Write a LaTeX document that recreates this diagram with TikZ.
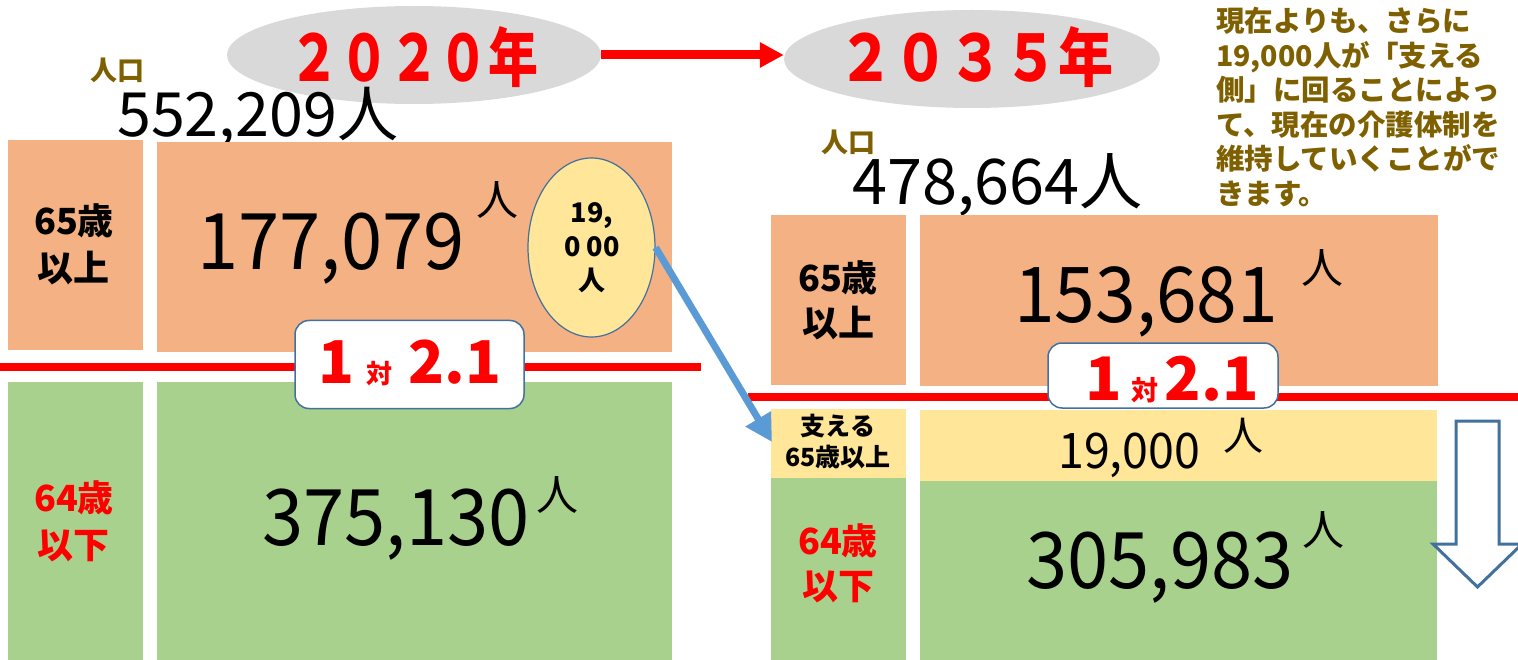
\documentclass[tikz,border=0pt]{standalone}
\usepackage{fontspec}
\setmainfont{Noto Sans CJK JP}
\usetikzlibrary{arrows.meta,shapes.geometric}
\definecolor{orng}{HTML}{F4B183}
\definecolor{grn}{HTML}{A9D18E}
\definecolor{ylw}{HTML}{FFE699}
\definecolor{gry}{HTML}{D9D9D9}
\definecolor{brn}{HTML}{7F6000}
\definecolor{arrblue}{HTML}{5B9BD5}
\definecolor{bordc}{HTML}{41719C}
\definecolor{rd}{HTML}{FF0000}
\newcommand{\myfs}[2]{\fontsize{#1}{#2}\selectfont}
\newcommand{\narrow}[1]{\scalebox{0.95}[1]{#1}}
\begin{document}
\begin{tikzpicture}[x=1pt,y=-1pt,
  rect/.style={inner sep=0pt, outer sep=0pt, draw=none},
  lbl/.style={inner sep=0pt, align=center},
  num/.style={inner sep=0pt, anchor=base west},
  sup/.style={inner sep=0pt},
  ratiobox/.style={draw=bordc, line width=1.5pt, fill=white, rounded corners=14pt, inner sep=0pt},
  title/.style={inner sep=0pt, anchor=base, text=rd, font=\bfseries\myfs{64}{64}},
  para/.style={inner sep=0pt, anchor=base west, text=brn, font=\bfseries\myfs{28.5}{34}},
  redline/.style={draw=rd, line width=8pt},
]
\useasboundingbox (0,0) rectangle (1518,660);

% ---------- titles ----------
\node[ellipse, fill=gry, minimum width=374, minimum height=98, inner sep=0pt] (e20) at (414,55) {};
\node[ellipse, fill=gry, minimum width=376, minimum height=98, inner sep=0pt] (e35) at (972,59) {};
\node[title] (t20) at (414,82) {\scalebox{0.78}[1]{２０２０年}};
\node[title] (t35) at (976,82) {\scalebox{0.86}[1]{２０３５年}};
\draw[draw=rd, line width=9pt, -{Triangle[length=24pt,width=24pt]}] (e20.east) -- (e20.east -| e35.west);

% ---------- left (2020) ----------
\node[lbl, text=brn, font=\bfseries\myfs{27}{27}] (pop20l) at (117,70.5) {人口};
\node[num, font=\myfs{61}{61}] (pop20) at (117,137) {552,209人};

\node[rect, fill=orng, minimum width=135, minimum height=210] (L65) at (75.5,245) {};
\node[rect, fill=orng, minimum width=515, minimum height=210] (L65b) at (414.5,247) {};
\node[rect, fill=grn, minimum width=135, minimum height=278] (L64) at (75.5,521) {};
\node[rect, fill=grn, minimum width=515, minimum height=278] (L64b) at (414.5,521) {};

\node[lbl, font=\bfseries\myfs{36}{47}] (L65t) at (74,244) {65歳\\以上};
\node[lbl, text=rd, font=\bfseries\myfs{36}{47}] (L64t) at (74,521) {64歳\\以下};

\node[num, font=\myfs{78}{78}] (L65n) at (197,270) {\narrow{177,079}};
\node[sup, font=\myfs{42}{42}] (L65p) at (497,200) {人};
\node[num, font=\myfs{78}{78}] (L64n) at (262,545) {\narrow{375,130}};
\node[sup, font=\myfs{42}{42}] (L64p) at (557,495) {人};

\node[ellipse, draw=bordc, line width=1.2pt, fill=ylw, minimum width=127, minimum height=179, inner sep=0pt] (ell) at (591.5,247.5) {};
\node[lbl, font=\bfseries\myfs{27}{34}] (ellt) at (592,248) {19,\\0 00\\人};

\draw[redline] (0,367) -- (701,367);
\node[ratiobox, minimum width=229, minimum height=88] (rL) at (409.5,364.5) {};
\node[inner sep=0pt, anchor=base, text=rd, font=\bfseries] (rLt) at (410,383)
  {\myfs{59}{59}1\hspace{12pt}\myfs{26}{26}対\hspace{16pt}\myfs{59}{59}2.1};

% ---------- right (2035) ----------
\node[lbl, text=brn, font=\bfseries\myfs{27}{27}] (pop35l) at (848,142.5) {人口};
\node[num, font=\myfs{63}{63}] (pop35) at (852,205) {478,664人};

\node[para] (p1) at (1216,32) {現在よりも、さらに};
\node[para] (p2) at (1216,66.5) {19,000人が「支える};
\node[para] (p3) at (1216,101) {側」に回ることによっ};
\node[para] (p4) at (1216,135.5) {て、現在の介護体制を};
\node[para] (p5) at (1216,170) {維持していくことがで};
\node[para] (p6) at (1216,204.5) {きます。};

\node[rect, fill=orng, minimum width=135, minimum height=170] (R65) at (838.5,300) {};
\node[rect, fill=orng, minimum width=518, minimum height=171] (R65b) at (1179,300.5) {};
\node[rect, fill=ylw, minimum width=135, minimum height=69] (Rs) at (838.5,443.5) {};
\node[rect, fill=ylw, minimum width=517, minimum height=71] (Rsb) at (1178.5,445.5) {};
\node[rect, fill=grn, minimum width=135, minimum height=182] (R64) at (838.5,569) {};
\node[rect, fill=grn, minimum width=517, minimum height=179] (R64b) at (1178.5,570.5) {};

\node[lbl, font=\bfseries\myfs{36}{45}] (R65t) at (838,300) {65歳\\以上};
\node[lbl, font=\bfseries\myfs{25}{31}] (Rst) at (838,442) {支える\\65歳以上};
\node[lbl, text=rd, font=\bfseries\myfs{36}{45}] (R64t) at (838,563) {64歳\\以下};

\node[num, font=\myfs{77}{77}] (R65n) at (1014,323) {\narrow{153,681}};
\node[sup, font=\myfs{42}{42}] (R65p) at (1322,268) {人};
\node[num, font=\myfs{49}{49}] (Rsn) at (1058,468) {\narrow{19,000}};
\node[sup, font=\myfs{40}{40}] (Rsp) at (1243,436) {人};
\node[num, font=\myfs{78}{78}] (R64n) at (1026,588) {\narrow{305,983}};
\node[sup, font=\myfs{42}{42}] (R64p) at (1323,530) {人};

\draw[redline] (748,397) -- (1518,397);
\node[ratiobox, minimum width=230, minimum height=65] (rR) at (1163,375.5) {};
\node[inner sep=0pt, anchor=base, text=rd, font=\bfseries] (rRt) at (1172,400)
  {\myfs{60}{60}1\hspace{10pt}\myfs{27}{27}対\hspace{6pt}\myfs{60}{60}2.1};

% hollow down arrow
\draw[draw=bordc, line width=3pt, fill=white, line join=miter]
  (1456,421) -- (1499,421) -- (1499,544) -- (1522,544) -- (1477.5,587)
  -- (1433,544) -- (1456,544) -- cycle;

% blue arrow from ellipse to supporting group
\coordinate (tipB) at (772,442);
\draw[draw=arrblue, line width=7pt, -{Triangle[length=27pt,width=28pt]}] (ell.east) -- (tipB);
\end{tikzpicture}
\end{document}
